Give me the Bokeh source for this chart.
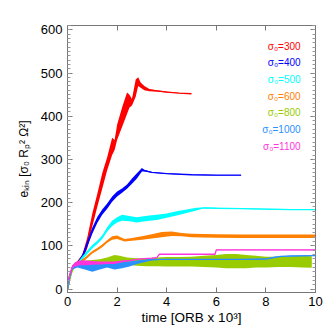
import numpy as np
from bokeh.plotting import figure
from bokeh.models import Range1d, LinearAxis, SingleIntervalTicker, Label, CustomJSTickFormatter
from bokeh.embed import file_html
from bokeh.resources import INLINE

# ---- data ----
# sigma0 = 300
t300  = [0, 0.1, 0.2, 0.4, 0.6, 0.8, 1.0, 1.2, 1.4, 1.6, 1.8, 1.9, 2.0, 2.2, 2.4, 2.5, 2.6, 2.75, 2.85, 2.95, 3.1, 3.3, 3.6, 4.0, 4.5, 5.0]
lo300 = [0, 25, 45, 55, 65, 95, 145, 190, 232, 275, 310, 322, 345, 375, 405, 420, 425, 445, 470, 466, 460, 458, 457, 455, 453, 452]
hi300 = [0, 35, 55, 65, 80, 120, 175, 220, 268, 305, 350, 345, 380, 420, 455, 450, 440, 485, 490, 478, 470, 463, 460, 457, 454, 452]
# sigma0 = 400
t400  = [0, 0.1, 0.2, 0.4, 0.6, 0.8, 1.0, 1.2, 1.4, 1.6, 1.8, 2.0, 2.2, 2.4, 2.6, 2.8, 3.0, 3.1, 3.4, 4.0, 5.0, 6.0, 7.0]
lo400 = [0, 27, 47, 55, 70, 98, 128, 153, 172, 186, 202, 214, 223, 232, 244, 256, 272, 272, 269, 266, 264, 263, 263]
hi400 = [0, 33, 53, 61, 80, 112, 142, 167, 184, 198, 214, 226, 233, 242, 256, 268, 280, 276, 271, 268, 265, 264, 264]
# sigma0 = 500
t500  = [0, 0.1, 0.2, 0.4, 0.6, 0.8, 1.0, 1.2, 1.4, 1.6, 1.8, 2.0, 2.2, 2.5, 2.8, 3.0, 3.3, 3.6, 4.0, 4.4, 4.8, 5.2, 5.5, 6, 7, 8, 9, 10]
lo500 = [0, 27, 47, 55, 68, 81, 94, 104, 116, 133, 146, 154, 158, 157, 154, 156, 158, 160, 165, 170, 176, 182, 187, 186, 185, 184, 183, 183]
hi500 = [0, 33, 53, 61, 76, 89, 102, 112, 124, 143, 158, 166, 172, 169, 166, 168, 170, 172, 175, 180, 184, 188, 189, 188, 187, 186, 185, 185]
# sigma0 = 600
t600  = [0, 0.1, 0.2, 0.4, 0.6, 0.8, 1.0, 1.2, 1.4, 1.6, 1.8, 2.0, 2.3, 2.6, 3.0, 3.4, 3.8, 4.2, 4.6, 5, 6, 7, 8, 9, 10]
lo600 = [0, 26, 46, 55, 62, 72, 82, 89, 97, 107, 114, 116, 110, 112, 114, 117, 120, 123, 122, 120, 119, 118, 118, 118, 118]
hi600 = [0, 30, 50, 59, 68, 78, 88, 95, 103, 113, 122, 124, 116, 118, 122, 127, 132, 133, 130, 128, 127, 126, 126, 126, 126]
# sigma0 = 800
t800  = [0, 0.1, 0.2, 0.3, 0.5, 0.8, 1.0, 1.3, 1.6, 1.9, 2.1, 2.4, 2.8, 3.2, 3.6, 4.0, 4.5, 5.0, 5.5, 6.0, 6.4, 6.8, 7.2, 7.6, 8.0, 8.5, 9.0, 9.5, 9.85]
lo800 = [0, 20, 40, 50, 55, 55, 56, 57, 57, 58, 58, 56, 54, 53, 53, 52, 52, 52, 51, 50, 48, 48, 48, 50, 50, 51, 51, 50, 49]
hi800 = [0, 30, 50, 60, 65, 66, 67, 69, 73, 79, 77, 73, 71, 71, 73, 74, 74, 75, 77, 79, 81, 81, 79, 77, 75, 75, 76, 77, 76]
# sigma0 = 1000
t1000  = [0, 0.1, 0.2, 0.4, 0.7, 1.0, 1.3, 1.6, 1.9, 2.2, 2.5, 2.8, 3.1, 3.4, 3.8, 4.5, 5, 6, 7, 8, 8.3, 8.6, 9, 10]
lo1000 = [0, 25, 45, 50, 45, 40, 45, 50, 45, 48, 52, 58, 62, 66, 68, 68, 68, 68, 68, 69, 72, 75, 76, 77]
hi1000 = [0, 35, 55, 62, 62, 60, 62, 62, 60, 62, 64, 66, 68, 70, 69, 69, 69, 69, 69, 70, 74, 76, 77, 78]
# sigma0 = 1100
t1100  = [0, 0.1, 0.2, 0.3, 0.5, 0.8, 1.0, 1.3, 1.6, 1.9, 2.2, 2.5, 2.8, 3.1, 3.4, 3.6, 3.7, 4.5, 5.5, 5.95, 6.0, 7, 8, 9, 10]
lo1100 = [10, 30, 48, 52, 55, 55, 56, 57, 58, 58, 62, 65, 68, 70, 71, 72, 80, 80, 80, 80, 90, 90, 90, 90, 90]
hi1100 = [20, 40, 55, 62, 66, 66, 65, 64, 64, 64, 66, 67, 69, 71, 72, 73, 81, 81, 81, 81, 91, 91, 91, 91, 91]

labels = ["σ₀=300", "σ₀=400", "σ₀=500", "σ₀=600", "σ₀=800", "σ₀=1000", "σ₀=1100"]
colors = ["#ff0000", "#0000ff", "#00ffff", "#ff8000", "#99cc00", "#2a90ff", "#ff33dd"]

series = [(t300, lo300, hi300), (t400, lo400, hi400), (t500, lo500, hi500),
          (t600, lo600, hi600), (t800, lo800, hi800), (t1000, lo1000, hi1000),
          (t1100, lo1100, hi1100)]

FONT = "Liberation Sans"

p = figure(width=332, height=332, output_backend="svg", toolbar_location=None,
           x_range=Range1d(0, 10), y_range=Range1d(-8, 610),
           min_border_left=67, min_border_right=17, min_border_top=25, min_border_bottom=40)
p.background_fill_color = "white"
p.border_fill_color = "white"
p.outline_line_color = "#777777"
p.xgrid.visible = False
p.ygrid.visible = False

for (t, lo, hi), c in zip(series, colors):
    lo = np.array(lo, float)
    hi = np.array(hi, float)
    p.varea(x=t, y1=lo, y2=hi, fill_color=c)
    p.line(x=t, y=(lo + hi) / 2, line_color=c, line_width=1.3)

xt = SingleIntervalTicker(interval=2, num_minor_ticks=0)
yt = SingleIntervalTicker(interval=100, num_minor_ticks=10)

def style(ax, show_labels):
    ax.axis_line_color = "#777777"
    ax.major_tick_line_color = "#777777"
    ax.minor_tick_line_color = "#999999"
    ax.major_tick_in = 5
    ax.major_tick_out = 0
    ax.minor_tick_in = 3
    ax.minor_tick_out = 0
    if show_labels:
        ax.major_label_text_font = FONT
        ax.major_label_text_font_size = "13px"
        ax.major_label_text_color = "black"
        ax.axis_label_text_font = FONT
        ax.axis_label_text_font_size = "12px"
        ax.axis_label_text_font_style = "normal"
        ax.axis_label_text_color = "black"
    else:
        ax.formatter = CustomJSTickFormatter(code="return ''")
        ax.major_label_standoff = 0

xa = p.xaxis[0]
xa.ticker = xt
xa.axis_label = "time [ORB x 10³]"
style(xa, True)
xa.axis_label_text_font_size = "13.5px"
xa.major_label_standoff = 4
xa.axis_label_standoff = 1

ya = p.yaxis[0]
ya.ticker = yt
ya.axis_label = "eₖᵢₙ [σ₀ Rₚ² Ω²]"
style(ya, True)
ya.major_label_standoff = 5
ya.axis_label_standoff = 7

top = LinearAxis(ticker=SingleIntervalTicker(interval=2, num_minor_ticks=0))
style(top, False)
p.add_layout(top, "above")
right = LinearAxis(ticker=SingleIntervalTicker(interval=100, num_minor_ticks=10))
style(right, False)
p.add_layout(right, "right")

p.add_layout(Label(x=5, y=636, text="τ=2", text_align="center", text_baseline="middle",
                   text_font=FONT, text_font_size="15px", text_color="black"))

for i, (lab, c) in enumerate(zip(labels, colors)):
    p.add_layout(Label(x=9.4, y=562 - i * 38.5, text=lab, text_align="right",
                       text_baseline="middle", text_font=FONT, text_font_size="10px",
                       text_color=c))

open("out.html", "w").write(file_html(p, INLINE))
